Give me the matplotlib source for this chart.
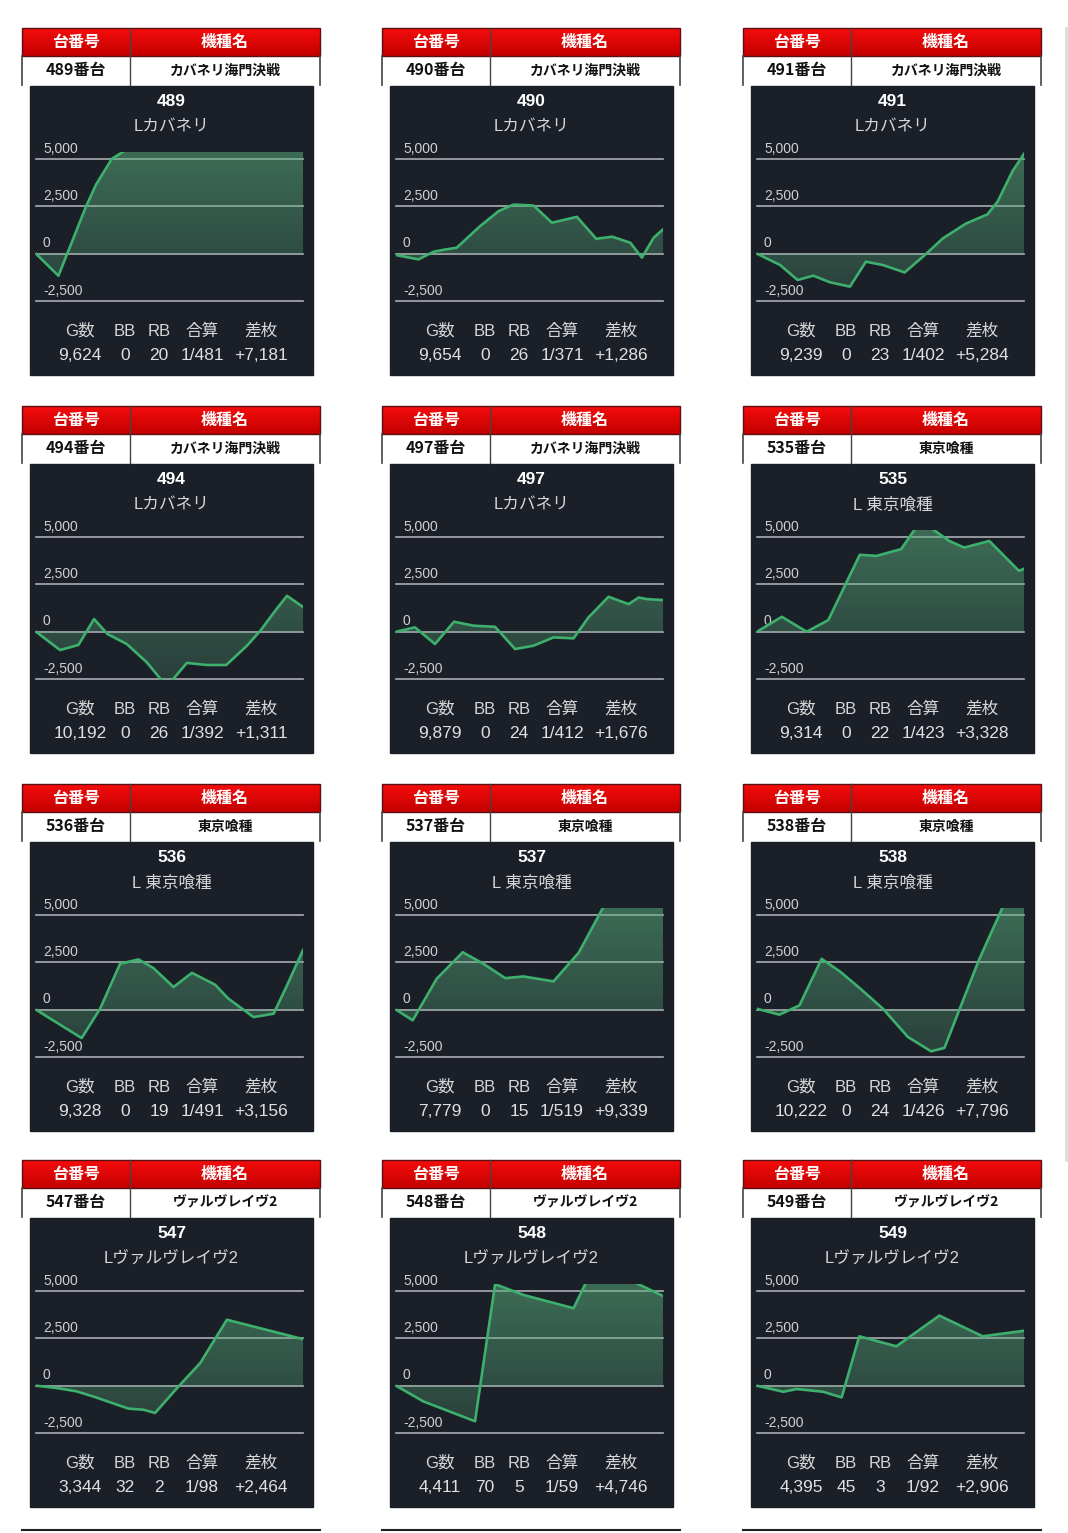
import numpy as np
import matplotlib
matplotlib.use('Agg')
import matplotlib.pyplot as plt
from matplotlib.patches import Rectangle

plt.rcParams['font.family'] = ['Noto Sans CJK JP', 'DejaVu Sans']
PANEL_FONT = ['Liberation Sans', 'Noto Sans CJK JP']

# machine info
dai_ids = ['489', '490', '491', '494', '497', '535', '536', '537', '538', '547', '548', '549']
kishu = ['カバネリ海門決戦'] * 5 + ['東京喰種'] * 4 + ['ヴァルヴレイヴ2'] * 3
short_names = ['Lカバネリ'] * 5 + ['L 東京喰種'] * 4 + ['Lヴァルヴレイヴ2'] * 3
g_counts = ['9,624', '9,654', '9,239', '10,192', '9,879', '9,314',
            '9,328', '7,779', '10,222', '3,344', '4,411', '4,395']
bb_counts = ['0', '0', '0', '0', '0', '0', '0', '0', '0', '32', '70', '45']
rb_counts = ['20', '26', '23', '26', '24', '22', '19', '15', '24', '2', '5', '3']
gassan = ['1/481', '1/371', '1/402', '1/392', '1/412', '1/423',
          '1/491', '1/519', '1/426', '1/98', '1/59', '1/92']
samai = ['+7,181', '+1,286', '+5,284', '+1,311', '+1,676', '+3,328',
         '+3,156', '+9,339', '+7,796', '+2,464', '+4,746', '+2,906']

# slump curves (x = fraction of the day, y = coins)
x489 = [0, 0.084, 0.1875, 0.225, 0.284, 0.35, 0.45, 0.7, 1.0]
y489 = [0, -1166, 2500, 3660, 5020, 5600, 6200, 6800, 7181]
x490 = [0, 0.084, 0.14, 0.171, 0.2275, 0.315, 0.384, 0.44, 0.515, 0.584,
        0.6775, 0.75, 0.81, 0.8775, 0.921, 0.965, 1.0]
y490 = [-70, -300, 100, 190, 320, 1460, 2250, 2600, 2550, 1640,
        1950, 790, 900, 580, -210, 845, 1286]
x491 = [0, 0.087, 0.152, 0.211, 0.273, 0.348, 0.408, 0.472, 0.553, 0.634,
        0.696, 0.783, 0.863, 0.901, 0.957, 1.0]
y491 = [0, -600, -1390, -1160, -1510, -1740, -420, -600, -990, 0,
        810, 1600, 2080, 2750, 4370, 5284]
x494 = [0, 0.09, 0.159, 0.2175, 0.2675, 0.34, 0.415, 0.49, 0.565, 0.64,
        0.7125, 0.79, 0.84, 0.896, 0.94, 1.0]
y494 = [0, -970, -700, 670, -120, -650, -1620, -2900, -1650, -1760,
        -1760, -740, 50, 1110, 1900, 1311]
x497 = [0, 0.071, 0.146, 0.2175, 0.29, 0.371, 0.446, 0.515, 0.59, 0.665,
        0.721, 0.796, 0.871, 0.909, 0.94, 1.0]
y497 = [0, 230, -650, 530, 320, 260, -915, -740, -300, -350,
        760, 1850, 1460, 1810, 1725, 1676]
x535 = [0, 0.093, 0.186, 0.267, 0.385, 0.447, 0.54, 0.6, 0.65, 0.72,
        0.776, 0.87, 0.981, 1.0]
y535 = [0, 790, 0, 615, 4070, 4010, 4370, 5600, 5500, 4800,
        4450, 4800, 3220, 3328]
x536 = [0, 0.09, 0.171, 0.24, 0.315, 0.384, 0.44, 0.515, 0.584, 0.671,
        0.721, 0.815, 0.89, 0.94, 1.0]
y536 = [0, -790, -1500, 50, 2430, 2660, 2200, 1200, 1950, 1320,
        580, -390, -210, 1285, 3156]
x537 = [0, 0.0625, 0.1525, 0.25, 0.3275, 0.409, 0.4775, 0.59, 0.684,
        0.775, 0.82, 0.9, 1.0]
y537 = [0, -560, 1640, 3040, 2430, 1670, 1760, 1500, 3010,
        5390, 6600, 8000, 9339]
x538 = [0, 0.084, 0.159, 0.242, 0.311, 0.385, 0.472, 0.565, 0.652, 0.702,
        0.758, 0.832, 0.919, 1.0]
y538 = [50, -260, 230, 2690, 2020, 1140, 50, -1440, -2200, -2020,
        0, 2660, 5390, 7796]
x547 = [0, 0.0775, 0.1525, 0.221, 0.346, 0.4025, 0.446, 0.534, 0.615, 0.715, 1.0]
y547 = [0, -120, -300, -600, -1210, -1270, -1440, -35, 1200, 3490, 2464]
x548 = [0, 0.1025, 0.296, 0.371, 0.4775, 0.665, 0.72, 0.86, 1.0]
y548 = [0, -830, -1880, 5370, 4800, 4100, 5700, 5700, 4746]
x549 = [0, 0.099, 0.149, 0.248, 0.317, 0.383, 0.522, 0.683, 0.845, 1.0]
y549 = [0, -320, -175, -320, -620, 2615, 2085, 3710, 2615, 2906]

curves_x = [x489, x490, x491, x494, x497, x535, x536, x537, x538, x547, x548, x549]
curves_y = [y489, y490, y491, y494, y497, y535, y536, y537, y538, y547, y548, y549]

y_ticks = [5000, 2500, 0, -2500]
y_tick_labels = ['5,000', '2,500', '0', '-2,500']
stat_heads = ['G数', 'BB', 'RB', '合算', '差枚']

W, H = 1068, 1533
YMIN, YMAX = -2553, 5380
fig = plt.figure(figsize=(W / 100, H / 100), dpi=100)
fig.patch.set_facecolor('white')
bg = fig.add_axes([0, 0, 1, 1])
bg.axis('off')

col_left = [22, 382, 743]
row_top = [28, 406, 784, 1160]
tw, split = 298, 108
DARK = '#1b1f28'
GREEN = '#3cb06c'

top_red = np.array([0.96, 0.05, 0.05])
bot_red = np.array([0.77, 0.0, 0.0])
red_grad = top_red + np.linspace(0, 1, 30)[:, None, None] * (bot_red - top_red)

# vertical green gradient for the area under the curve (bottom row first)
fill_grad = np.zeros((100, 1, 4))
fill_grad[:, 0, :3] = [0.36, 0.70, 0.50]
fill_grad[:, 0, 3] = np.linspace(0.22, 0.52, 100)


def fx(x):
    return x / W


def fy(y):
    return 1 - y / H


for i in range(12):
    r, c = divmod(i, 3)
    L, T = col_left[c], row_top[r]

    # red header + white row
    bg.imshow(red_grad, extent=(L, L + tw, T + 28, T), aspect='auto', zorder=1)
    bg.add_patch(Rectangle((L, T), tw, 28, fill=False, ec='#5a1010', lw=1, zorder=2))
    bg.plot([L + split, L + split], [T, T + 57], color='#444444', lw=1, zorder=3)
    bg.plot([L, L], [T + 28, T + 57], color='#444444', lw=1.2, zorder=3)
    bg.plot([L + tw, L + tw], [T + 28, T + 57], color='#444444', lw=1.2, zorder=3)
    bg.text(L + split / 2, T + 14, '台番号', color='white', fontsize=11.5, fontweight='bold',
            ha='center', va='center', zorder=4)
    bg.text(L + split + (tw - split) / 2, T + 14, '機種名', color='white', fontsize=11.5,
            fontweight='bold', ha='center', va='center', zorder=4)
    bg.text(L + split / 2, T + 42.5, dai_ids[i] + '番台', color='#111111', fontsize=11.5,
            fontweight='bold', ha='center', va='center', zorder=4)
    bg.text(L + split + (tw - split) / 2, T + 42.5, kishu[i], color='#111111', fontsize=10,
            fontweight='bold', ha='center', va='center', zorder=4)

    # dark panel
    dx0, dy0, dw, dh = L + 8, T + 58, 283, 289
    bg.add_patch(Rectangle((dx0, dy0), dw, dh, color=DARK, zorder=1))
    cx = dx0 + dw / 2
    bg.text(cx, T + 74, dai_ids[i], color='white', fontsize=12.5, fontweight='bold',
            ha='center', va='center', family=PANEL_FONT, zorder=4)
    bg.text(cx, T + 99, short_names[i], color='#d6d6d6', fontsize=12,
            ha='center', va='center', family=PANEL_FONT, zorder=4)

    stat_vals = [g_counts[i], bb_counts[i], rb_counts[i], gassan[i], samai[i]]
    for sx, h, v in zip([50, 95, 129, 172, 231], stat_heads, stat_vals):
        bg.text(dx0 + sx, T + 303, h, color='#d6d6d6', fontsize=12, ha='center',
                va='center', family=PANEL_FONT, zorder=4)
        bg.text(dx0 + sx, T + 328, v, color='#e0e0e0', fontsize=12.5, ha='center',
                va='center', family=PANEL_FONT, zorder=4)

    # slump chart
    ax_l, ax_r = dx0 + 6, dx0 + dw - 10
    ax_t, ax_b = T + 124, T + 274
    ax = fig.add_axes([fx(ax_l), fy(ax_b), (ax_r - ax_l) / W, (ax_b - ax_t) / H])
    ax.set_facecolor('none')
    ax.axis('off')
    for v, lbl in zip(y_ticks, y_tick_labels):
        ax.axhline(v, color='#a9acb2', lw=1.2, clip_on=False, zorder=1)
        ax.annotate(lbl, xy=(0.026, v), xycoords=('axes fraction', 'data'),
                    xytext=(0, 2.5), textcoords='offset points', color='#d0d0d0',
                    fontsize=10, ha='left', va='bottom', family=PANEL_FONT)
    xs, ys = curves_x[i], curves_y[i]
    area = ax.fill_between(xs, ys, 0, facecolor='none', lw=0)
    im = ax.imshow(fill_grad, extent=(0, 1, YMIN, YMAX), origin='lower',
                   aspect='auto', zorder=2)
    im.set_clip_path(area.get_paths()[0], transform=ax.transData)
    ax.plot(xs, ys, color=GREEN, lw=1.9, zorder=3, solid_joinstyle='round')
    ax.set_xlim(0, 1)
    ax.set_ylim(YMIN, YMAX)

# tops of the next tables
for L in col_left:
    bg.plot([L, L + tw], [1530, 1530], color='#222222', lw=1.5)
bg.plot([1066, 1066], [28, 1160], color='#dddddd', lw=2)

bg.set_xlim(0, W)
bg.set_ylim(H, 0)

fig.savefig('out.png', dpi=100, facecolor='white')
